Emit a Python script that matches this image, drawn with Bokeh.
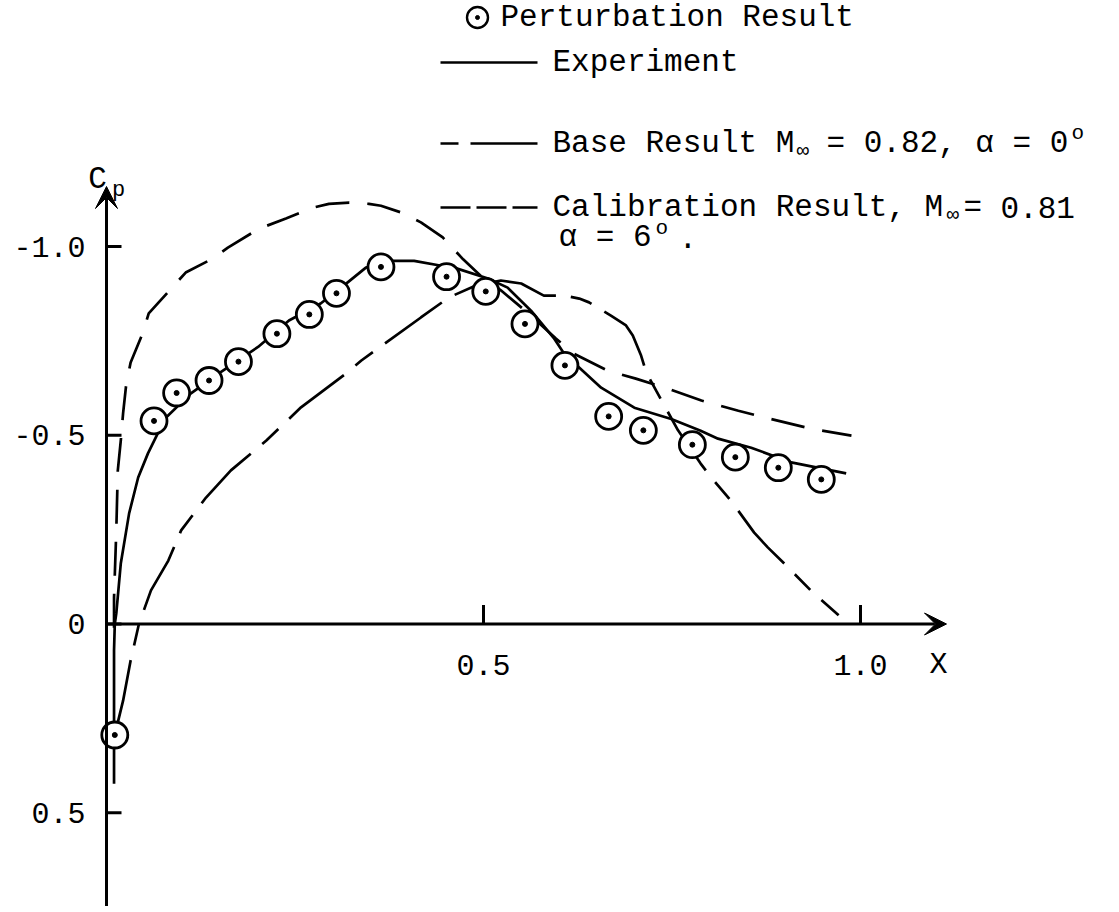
from bokeh.plotting import figure
from bokeh.models import Range1d, Arrow, VeeHead
from bokeh.core.properties import value
from bokeh.embed import file_html
from bokeh.resources import INLINE

# ---------------- data ----------------
pert_x = [0.011, 0.063, 0.093, 0.136, 0.175, 0.226, 0.269, 0.305, 0.364, 0.451,
          0.503, 0.555, 0.608, 0.666, 0.712, 0.777, 0.834, 0.891, 0.948]
pert_cp = [0.294, -0.538, -0.612, -0.645, -0.695, -0.769, -0.820, -0.876, -0.946, -0.920,
           -0.881, -0.795, -0.685, -0.550, -0.513, -0.475, -0.442, -0.414, -0.383]

exp_x = [0.010, 0.010, 0.010, 0.011, 0.013, 0.019, 0.030, 0.042, 0.055, 0.068, 0.079,
         0.112, 0.152, 0.201, 0.242, 0.284, 0.315, 0.344, 0.381, 0.408, 0.444, 0.461,
         0.506, 0.532, 0.563, 0.593, 0.607, 0.656, 0.700, 0.749, 0.788, 0.811, 0.855,
         0.908, 0.981]
exp_cp = [0.423, 0.293, 0.070, 0.000, -0.028, -0.161, -0.293, -0.388, -0.452, -0.505, -0.547,
          -0.611, -0.668, -0.734, -0.804, -0.849, -0.897, -0.944, -0.962, -0.962, -0.949, -0.944,
          -0.915, -0.891, -0.830, -0.758, -0.716, -0.626, -0.573, -0.543, -0.512, -0.491, -0.467,
          -0.428, -0.399]

cal_x = [0.010, 0.010, 0.013, 0.015, 0.019, 0.022, 0.026, 0.032, 0.048, 0.056, 0.086,
         0.105, 0.141, 0.161, 0.202, 0.238, 0.274, 0.295, 0.322, 0.348, 0.364, 0.391,
         0.417, 0.446, 0.473, 0.497, 0.523, 0.563, 0.596, 0.620, 0.665, 0.702, 0.745,
         0.789, 0.838, 0.879, 0.935, 0.988]
cal_cp = [0.010, -0.070, -0.248, -0.407, -0.487, -0.558, -0.632, -0.693, -0.770, -0.823, -0.889,
          -0.931, -0.968, -0.997, -1.047, -1.074, -1.103, -1.113, -1.116, -1.113, -1.108, -1.090,
          -1.064, -1.024, -0.966, -0.921, -0.884, -0.817, -0.756, -0.716, -0.671, -0.650, -0.623,
          -0.592, -0.565, -0.544, -0.517, -0.499]

base_x = [0.013, 0.022, 0.032, 0.043, 0.059, 0.082, 0.099, 0.132, 0.165, 0.212, 0.258,
          0.318, 0.338, 0.417, 0.454, 0.490, 0.523, 0.550, 0.580, 0.607, 0.627, 0.640,
          0.669, 0.689, 0.698, 0.709, 0.716, 0.729, 0.742, 0.758, 0.788, 0.802, 0.828,
          0.859, 0.877, 0.899, 0.934, 0.971]
base_cp = [0.277, 0.203, 0.097, 0.000, -0.089, -0.168, -0.248, -0.335, -0.407, -0.486, -0.574,
           -0.664, -0.698, -0.812, -0.865, -0.897, -0.910, -0.902, -0.870, -0.870, -0.862, -0.852,
           -0.817, -0.791, -0.764, -0.711, -0.666, -0.618, -0.571, -0.513, -0.425, -0.388, -0.327,
           -0.242, -0.203, -0.160, -0.089, -0.023]

y_ticks = [-1.0, -0.5, 0.0, 0.5]
y_tick_labels = ["-1.0", "-0.5", "0", "0.5"]
x_ticks = [0.5, 1.0]
x_tick_labels = ["0.5", "1.0"]

# ---------------- layout (figure pixels) ----------------
FIG_W, FIG_H = 1111, 906
PX0, PXS = 106.0, 754.0      # pixel x of x=0, px per unit
PY0, PYS = 623.5, 377.5      # pixel y of Cp=0, px per unit


def X(px):
    return (px - PX0) / PXS


def Y(py):
    return (py - PY0) / PYS


MONO = "Liberation Mono"
FONT = value(MONO)

p = figure(width=FIG_W, height=FIG_H,
           x_range=Range1d(X(0), X(FIG_W)), y_range=Range1d(Y(FIG_H), Y(0)),
           x_axis_type=None, y_axis_type=None,
           output_backend="svg", toolbar_location=None,
           min_border_left=0, min_border_right=0, min_border_top=0, min_border_bottom=0)
p.outline_line_color = None
p.background_fill_color = "white"
p.border_fill_color = "white"

LW = 2.7

# axes with arrows
p.add_layout(Arrow(x_start=0, y_start=Y(FIG_H), x_end=0, y_end=Y(186), line_width=3,
                   end=VeeHead(size=22, fill_color="black", line_color="black", line_width=1)))
p.add_layout(Arrow(x_start=0, y_start=0, x_end=X(946), y_end=0, line_width=3,
                   end=VeeHead(size=22, fill_color="black", line_color="black", line_width=1)))

tick_len_x = 15 / PXS
tick_len_y = 19 / PYS
p.segment(x0=[0] * len(y_ticks), y0=y_ticks, x1=[tick_len_x] * len(y_ticks), y1=y_ticks,
          line_width=3, line_color="black")
p.segment(x0=x_ticks, y0=[0] * len(x_ticks), x1=x_ticks, y1=[-tick_len_y] * len(x_ticks),
          line_width=3, line_color="black")

# tick labels
p.text(x=[X(85)] * len(y_ticks), y=y_ticks, text=y_tick_labels, text_font=FONT,
       text_font_size="30px", text_align="right", text_baseline="middle", text_color="black")
p.text(x=x_ticks, y=[Y(664)] * len(x_ticks), text=x_tick_labels, text_font=FONT,
       text_font_size="30px", text_align="center", text_baseline="middle", text_color="black")
p.text(x=[X(938)], y=[Y(664)], text=["X"], text_font=FONT, text_font_size="30px",
       text_align="center", text_baseline="middle", text_color="black")

# C_p axis title
p.text(x=[X(97)], y=[Y(179)], text=["C"], text_font=FONT, text_font_size="31px",
       text_align="center", text_baseline="middle", text_color="black")
p.text(x=[X(118)], y=[Y(190)], text=["p"], text_font=FONT, text_font_size="22px",
       text_align="center", text_baseline="middle", text_color="black")

# curves
p.line(base_x, base_cp, line_width=LW, line_color="black", line_dash="70 15 22 15")
p.line(cal_x, cal_cp, line_width=LW, line_color="black", line_dash="34 18")
p.line(exp_x, exp_cp, line_width=LW, line_color="black")

# perturbation markers
p.scatter(pert_x, pert_cp, marker="circle", size=26, fill_color="white",
          line_color="black", line_width=2.8)
p.scatter(pert_x, pert_cp, marker="circle", size=5, fill_color="black", line_color="black")

# legend
p.scatter([X(477)], [Y(17)], marker="circle", size=21, fill_color="white",
          line_color="black", line_width=2.4)
p.scatter([X(477)], [Y(17)], marker="circle", size=4, fill_color="black", line_color="black")
p.line([X(440), X(537)], [Y(62), Y(62)], line_width=LW, line_color="black")
p.line([X(440), X(537)], [Y(143), Y(143)], line_width=LW, line_color="black",
       line_dash="18 12 67 20")
p.line([X(440), X(537)], [Y(207), Y(207)], line_width=LW, line_color="black",
       line_dash="30 6")

big = [(500, 17, "Perturbation Result"),
       (552, 62, "Experiment"),
       (552, 143, "Base Result M"),
       (826, 143, "= 0.82, α = 0"),
       (552, 207, "Calibration Result, M"),
       (963, 207, "="),
       (1000, 207, "0.81"),
       (558, 237, "α = 6"),
       (678, 237, ".")]
small = [(796, 151, "∞"),
         (946, 215, "∞"),
         (1071, 133, "o"),
         (655, 228, "o")]

p.text(x=[X(a) for a, b, c in big], y=[Y(b) for a, b, c in big], text=[c for a, b, c in big],
       text_font=FONT, text_font_size="31px", text_align="left", text_baseline="middle",
       text_color="black")
p.text(x=[X(a) for a, b, c in small], y=[Y(b) for a, b, c in small],
       text=[c for a, b, c in small], text_font=FONT, text_font_size="21px",
       text_align="left", text_baseline="middle", text_color="black")

open("out.html", "w").write(file_html(p, INLINE))
